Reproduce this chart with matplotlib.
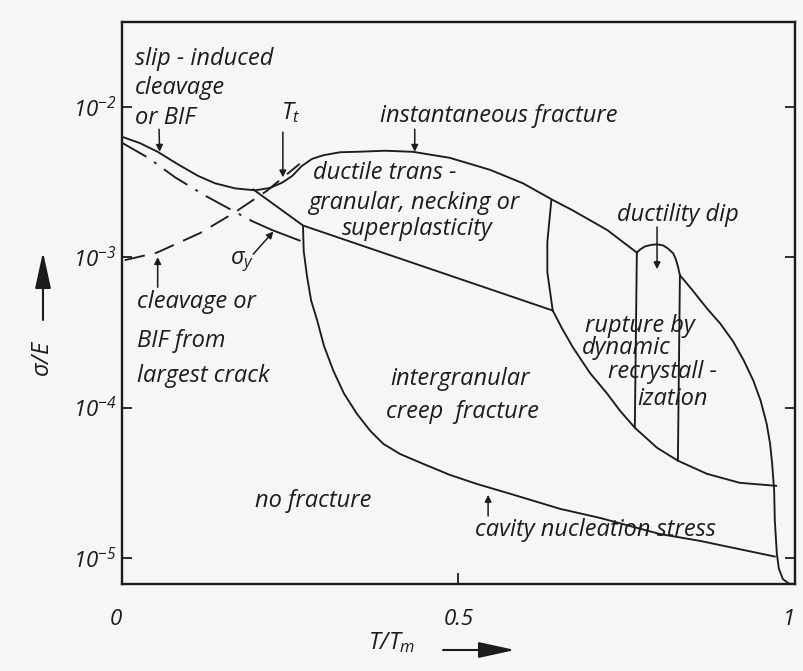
import numpy as np
import matplotlib
matplotlib.use("Agg")
import matplotlib.pyplot as plt

plt.rcParams["font.family"] = ["Open Sans", "DejaVu Sans"]
plt.rcParams["font.style"] = "italic"
plt.rcParams["mathtext.fontset"] = "custom"
plt.rcParams["mathtext.rm"] = "Open Sans:italic"
plt.rcParams["mathtext.it"] = "Open Sans:italic"
plt.rcParams["mathtext.default"] = "it"

INK = "#1c1c1c"
PAPER = "#f4f7f3"

# fracture mechanism map: T/Tm against log10(sigma/E)
# cleavage line, instantaneous fracture line, ductility dip and high-T edge
upper_T = [0.0, 0.027, 0.053, 0.083, 0.113, 0.138, 0.168, 0.198, 0.220, 0.238, 0.253,
           0.267, 0.282, 0.299, 0.324, 0.349, 0.391, 0.432, 0.487, 0.547, 0.596, 0.640,
           0.670, 0.721, 0.765, 0.770, 0.777, 0.786, 0.795, 0.804, 0.811, 0.819, 0.823,
           0.826, 0.829, 0.848, 0.869, 0.889, 0.908, 0.924, 0.938, 0.949, 0.958, 0.963,
           0.966, 0.969, 0.970, 0.973, 0.976, 0.982, 0.991, 1.0]
upper_logs = [-2.20, -2.243, -2.30, -2.383, -2.46, -2.509, -2.543, -2.556, -2.54, -2.505,
              -2.46, -2.395, -2.348, -2.323, -2.303, -2.30, -2.293, -2.30, -2.34, -2.42,
              -2.51, -2.62, -2.69, -2.82, -2.97, -2.949, -2.929, -2.919, -2.915, -2.922,
              -2.942, -2.975, -3.015, -3.062, -3.12, -3.222, -3.34, -3.442, -3.56, -3.688,
              -3.82, -3.955, -4.11, -4.241, -4.37, -4.55, -4.75, -4.97, -5.07, -5.14,
              -5.17, -5.172]

# line running down from the cleavage minimum to the ductile/creep corner
lower_T = [0.195, 0.269, 0.640]
lower_logs = [-2.55, -2.79, -3.355]

# yield stress (dash-dot, solid at its end)
yield_T = [0.0, 0.039, 0.079, 0.123, 0.160, 0.193, 0.223]
yield_logs = [-2.24, -2.34, -2.47, -2.59, -2.68, -2.76, -2.82]
yield_end_T = [0.223, 0.264]
yield_end_logs = [-2.82, -2.89]

# cleavage from largest crack (dashed)
crack_T = [0.004, 0.052, 0.116, 0.165, 0.215, 0.264]
crack_logs = [-3.02, -2.97, -2.84, -2.71, -2.56, -2.38]

# creep fracture boundary turning into cavity nucleation stress
creep_T = [0.269, 0.270, 0.275, 0.281, 0.290, 0.300, 0.314, 0.330, 0.349, 0.369, 0.388,
           0.413, 0.447, 0.487, 0.527, 0.577, 0.651, 0.710, 0.799, 0.859, 0.970]
creep_logs = [-2.80, -2.96, -3.13, -3.288, -3.42, -3.588, -3.755, -3.908, -4.041, -4.155,
              -4.24, -4.308, -4.373, -4.447, -4.507, -4.573, -4.673, -4.733, -4.84, -4.886,
              -4.99]

# ductile / dynamic recrystallisation boundary
split_T = [0.638, 0.632, 0.632, 0.640]
split_logs = [-2.62, -2.90, -3.10, -3.355]

# lower edge of dynamic recrystallisation field
drx_T = [0.640, 0.654, 0.670, 0.695, 0.721, 0.740, 0.762, 0.795, 0.826, 0.869, 0.918, 0.972]
drx_logs = [-3.355, -3.475, -3.60, -3.768, -3.908, -4.021, -4.134, -4.267, -4.353, -4.44,
            -4.50, -4.52]

# verticals bounding the ductility dip
dip_left_T = [0.765, 0.762]
dip_left_logs = [-2.97, -4.13]
dip_right_T = [0.829, 0.826]
dip_right_logs = [-3.12, -4.35]

y_ticks = [1e-2, 1e-3, 1e-4, 1e-5]
y_tick_labels = ["$10^{-2}$", "$10^{-3}$", "$10^{-4}$", "$10^{-5}$"]
x_ticks = [0, 0.5, 1]
x_tick_labels = ["0", "0.5", "1"]


def pw(v):
    return [10.0 ** e for e in v]


fig = plt.figure(figsize=(8.04, 6.71), dpi=100, facecolor=PAPER)
ax = fig.add_axes([122 / 804, 1 - 584 / 671, 673 / 804, 562 / 671])
ax.set_facecolor(PAPER)
ax.set_yscale("log")
ax.set_xlim(0, 1)
ax.set_ylim(10 ** -5.1724, 10 ** -1.4374)

lw = 1.35
ax.plot(upper_T, pw(upper_logs), color=INK, lw=lw)
ax.plot(lower_T, pw(lower_logs), color=INK, lw=lw)
ax.plot(yield_T, pw(yield_logs), color=INK, lw=lw, linestyle=(0, (15, 5, 1.5, 5)))
ax.plot(yield_end_T, pw(yield_end_logs), color=INK, lw=lw)
ax.plot(crack_T, pw(crack_logs), color=INK, lw=lw, linestyle=(0, (11, 5.5)))
ax.plot(creep_T, pw(creep_logs), color=INK, lw=lw)
ax.plot(split_T, pw(split_logs), color=INK, lw=lw)
ax.plot(drx_T, pw(drx_logs), color=INK, lw=lw)
ax.plot(dip_left_T, pw(dip_left_logs), color=INK, lw=lw)
ax.plot(dip_right_T, pw(dip_right_logs), color=INK, lw=lw)

for s in ax.spines.values():
    s.set_linewidth(1.7)
    s.set_color(INK)

ax.set_yticks(y_ticks)
ax.set_yticklabels(y_tick_labels, fontsize=16, color=INK)
ax.minorticks_off()
ax.set_xticks(x_ticks)
ax.set_xticklabels(x_tick_labels, fontsize=16, color=INK)
ax.get_xticklabels()[0].set_ha("right")
ax.get_xticklabels()[-1].set_ha("right")
ax.tick_params(axis="y", direction="in", length=7, width=1.3, pad=4, right=True, colors=INK)
ax.tick_params(axis="x", direction="in", length=8, width=1.3, pad=18, colors=INK)

fs = 17
txt = dict(fontsize=fs, color=INK, ha="left", va="center")
ax.text(0.019, 10 ** -1.877, "slip - induced\ncleavage\nor BIF", linespacing=1.3, **txt)
ax.text(0.236, 10 ** -2.037, "$T_t$", **txt)
ax.text(0.383, 10 ** -2.063, "instantaneous fracture", **txt)
ax.text(0.284, 10 ** -2.443, "ductile trans -", **txt)
ax.text(0.276, 10 ** -2.642, "granular, necking or", **txt)
ax.text(0.327, 10 ** -2.816, "superplasticity", **txt)
ax.text(0.735, 10 ** -2.722, "ductility dip", **txt)
ax.text(0.688, 10 ** -3.455, "rupture by", **txt)
ax.text(0.684, 10 ** -3.601, "dynamic", **txt)
ax.text(0.722, 10 ** -3.761, "recrystall -", **txt)
ax.text(0.765, 10 ** -3.941, "ization", **txt)
ax.text(0.398, 10 ** -3.808, "intergranular", **txt)
ax.text(0.393, 10 ** -4.028, "creep  fracture", **txt)
ax.text(0.198, 10 ** -4.620, "no fracture", **txt)
ax.text(0.525, 10 ** -4.813, "cavity nucleation stress", **txt)
ax.text(0.022, 10 ** -3.296, "cleavage or", **txt)
ax.text(0.022, 10 ** -3.555, "BIF from", **txt)
ax.text(0.022, 10 ** -3.788, "largest crack", **txt)
ax.text(0.160, 10 ** -3.03, r"$\sigma_y$", **txt)

arrow = dict(arrowstyle="-|>", color=INK, lw=1.1, mutation_scale=10, shrinkA=0, shrinkB=0)
pointers = [
    ((0.055, -2.15), (0.056, -2.30)),   # slip-induced cleavage
    ((0.239, -2.17), (0.239, -2.47)),   # T_t
    ((0.435, -2.15), (0.435, -2.30)),   # instantaneous fracture
    ((0.795, -2.80), (0.795, -3.08)),   # ductility dip
    ((0.195, -2.98), (0.225, -2.83)),   # sigma_y
    ((0.053, -3.20), (0.053, -3.00)),   # cleavage from crack
    ((0.544, -4.72), (0.544, -4.58)),   # cavity nucleation
]
for (x0, e0), (x1, e1) in pointers:
    ax.annotate("", xy=(x1, 10 ** e1), xytext=(x0, 10 ** e0), arrowprops=arrow)

# axis titles with direction arrows
fig.text(43 / 804, 1 - 358 / 671, r"$\sigma/E$", rotation=90, fontsize=17, color=INK,
         ha="center", va="center")
ax.annotate("", xy=(43 / 804, 1 - 252 / 671), xytext=(43 / 804, 1 - 320 / 671),
            xycoords="figure fraction", textcoords="figure fraction",
            arrowprops=dict(arrowstyle="-|>,head_length=1.6,head_width=0.35", color=INK,
                            lw=1.5, mutation_scale=14, shrinkA=0, shrinkB=0))
fig.text(392 / 804, 1 - 643 / 671, "$T/T_m$", fontsize=17, color=INK, ha="center", va="center")
ax.annotate("", xy=(515 / 804, 1 - 650 / 671), xytext=(443 / 804, 1 - 650 / 671),
            xycoords="figure fraction", textcoords="figure fraction",
            arrowprops=dict(arrowstyle="-|>,head_length=1.6,head_width=0.35", color=INK,
                            lw=1.5, mutation_scale=14, shrinkA=0, shrinkB=0))

fig.savefig("out.png", dpi=100, facecolor=PAPER)
